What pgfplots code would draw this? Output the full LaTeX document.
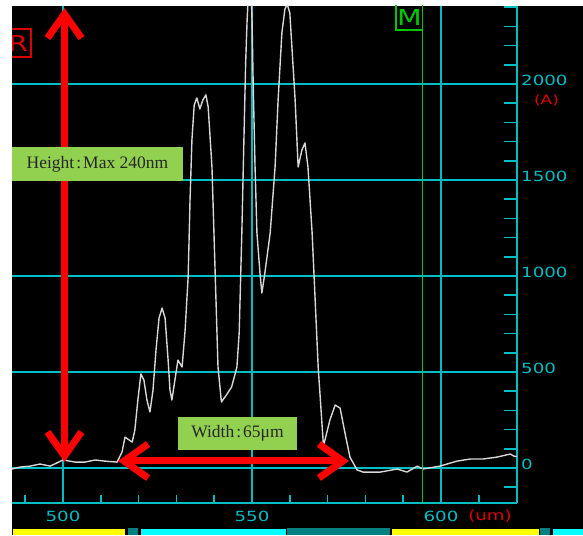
\documentclass[border=0pt]{standalone}
\usepackage{pgfplots}
\pgfplotsset{compat=1.18}
\usetikzlibrary{arrows.meta}
\usepackage{fontspec}
\setmainfont{Liberation Serif}
\newfontfamily\pixfont[FakeStretch=1.3]{DejaVu Sans}
\newfontfamily\labfont{Liberation Serif}
\definecolor{gridc}{RGB}{0,190,195}
\definecolor{curvec}{RGB}{215,215,215}
\definecolor{lblgreen}{RGB}{146,208,80}
\definecolor{mgreen}{RGB}{0,200,0}
\definecolor{arrred}{RGB}{255,0,0}
\definecolor{txtred}{RGB}{220,0,0}
\definecolor{darkteal}{RGB}{0,128,128}
\definecolor{barY}{RGB}{255,255,0}
\definecolor{barC}{RGB}{0,255,255}
\pgfplotsset{geo/.style={at={(12pt,32pt)}, anchor=south west, scale only axis,
  width=505pt, height=497pt, xmin=486.5, xmax=620.1, ymin=-182, ymax=2406}}
\begin{document}
\begin{tikzpicture}
\path[use as bounding box, fill=white] (0pt,0pt) rectangle (583pt,535pt);
\fill[black] (12pt,0pt) rectangle (583pt,529pt);
% bottom bar
\fill[barY] (13pt,0pt) rectangle (124.5pt,6.5pt);
\fill[darkteal] (127.5pt,0pt) rectangle (137.5pt,7.5pt);
\fill[barC] (140.5pt,0pt) rectangle (285.5pt,6.5pt);
\fill[darkteal] (287pt,0pt) rectangle (389.5pt,7.5pt);
\fill[barY] (392pt,0pt) rectangle (539pt,6.5pt);
\fill[darkteal] (540pt,0pt) rectangle (550pt,7.5pt);
\fill[barC] (553pt,0pt) rectangle (583pt,6.5pt);
% short x ticks every 10 units (490 ... 620)
\foreach \i in {0,...,13} \draw[gridc, line width=1.6pt] (25.2pt+\i*37.8pt,32pt) -- ++(0pt,8pt);
\begin{axis}[geo,
  axis x line*=bottom, axis y line*=right,
  axis line style={gridc, line width=1.6pt, -},
  xtick={500,550,600}, xticklabels={500,550,600},
  ytick={0,500,1000,1500,2000}, yticklabels={0,500,1000,1500,2000},
  minor ytick={-100,0,...,2400},
  grid=major, major grid style={gridc, line width=1.6pt},
  tick align=inside, major tick length=0pt, minor tick length=13pt,
  tick style={gridc, line width=1.6pt},
  ticklabel style={font=\pixfont\fontsize{14}{14}\selectfont, text=gridc, inner sep=0pt},
  /pgf/number format/assume math mode=true,
  xticklabel style={anchor=center, yshift=-13pt},
  yticklabel style={anchor=west, xshift=4pt, yshift=3.5pt},
  clip mode=individual]
\addplot[curvec, line width=1.4pt, line join=round] coordinates {
(486.5,-5) (488.6,5) (491.3,10) (493.9,21) (496.6,10) (500.0,42) (503.2,31)
(505.8,31) (508.5,42) (511.1,36) (514.3,31) (515.6,83) (516.4,161) (517.5,146)
(518.3,135) (519.0,198) (519.8,354) (520.6,490) (521.4,458) (522.2,354)
(523.0,292) (523.8,406) (524.6,615) (525.4,781) (526.2,833) (527.0,781)
(527.8,562) (528.3,406) (528.8,354) (529.6,458) (530.4,562) (531.5,526)
(532.3,719) (533.1,995) (533.6,1396) (534.1,1708) (534.7,1890) (535.4,1927)
(536.2,1870) (537.0,1917) (537.8,1943) (538.4,1880) (539.4,1568) (540.2,1047)
(541.0,526) (541.9,344) (543.2,380) (544.6,422) (546.0,526) (546.6,703)
(547.3,1224) (547.9,1750) (548.3,2100) (548.7,2333) (549.5,2650) (550.0,2333)
(550.3,2005) (550.8,1568) (551.3,1224) (552.1,1016) (552.6,911) (553.4,1016)
(554.8,1224) (556.1,1568) (556.9,1917) (557.9,2266) (558.7,2390) (559.3,2415)
(560.0,2370) (560.6,2177) (561.4,1917) (562.2,1568) (563.2,1656) (564.0,1693)
(564.8,1568) (565.9,1224) (566.7,875) (567.5,526) (568.9,115) (570.6,250)
(572.0,328) (573.3,312) (574.6,182) (575.9,57) (577.8,-10) (579.4,-21)
(583.9,-21) (588.4,-5) (591.0,-21) (593.7,10) (595.2,-5) (599.7,10)
(604.2,36) (607.7,47) (611.1,47) (614.8,57) (618.3,73) (619.3,62) (620.1,60)
};
\end{axis}
% marker M
\draw[mgreen, line width=1.5pt] (422.5pt,505pt) -- (422.5pt,32pt);
\begin{scope}
\clip (12pt,0pt) rectangle (583pt,529pt);
\draw[mgreen, line width=1.5pt] (396pt,505pt) rectangle (422.5pt,531pt);
\node[text=mgreen, font=\pixfont\fontsize{22}{22}\selectfont, inner sep=0pt] at (409.5pt,517.5pt) {M};
\draw[txtred, line width=1.5pt] (2pt,478pt) rectangle (31pt,506pt);
\node[text=txtred, font=\pixfont\fontsize{22}{22}\selectfont, inner sep=0pt] at (18pt,492pt) {R};
\end{scope}
% red arrows
\draw[arrred, line width=7pt, {Straight Barb[length=24pt,width=34pt]}-{Straight Barb[length=24pt,width=34pt]}] (64.5pt,527pt) -- (64.5pt,73pt);
\draw[arrred, line width=7pt, {Straight Barb[length=24pt,width=34pt]}-{Straight Barb[length=24pt,width=34pt]}] (118pt,74pt) -- (349pt,74pt);
% labels
\node[fill=lblgreen, minimum width=171pt, minimum height=34pt, inner sep=0pt, text=black!85,
  font=\labfont\fontsize{17.5}{20}\selectfont] at (97.5pt,371pt) {Height\hspace{2pt}:\hspace{2pt}Max 240nm};
\node[fill=lblgreen, minimum width=119pt, minimum height=33pt, inner sep=0pt, text=black!85,
  font=\labfont\fontsize{17.5}{20}\selectfont] at (237.5pt,101.5pt) {Width\hspace{2pt}:\hspace{2pt}65μm};
\node[text=txtred, font=\pixfont\fontsize{13}{13}\selectfont, inner sep=0pt] at (546.5pt,434.5pt) {(A)};
\node[text=txtred, font=\pixfont\fontsize{14}{14}\selectfont, inner sep=0pt] at (490pt,19pt) {(um)};
\end{tikzpicture}
\end{document}
